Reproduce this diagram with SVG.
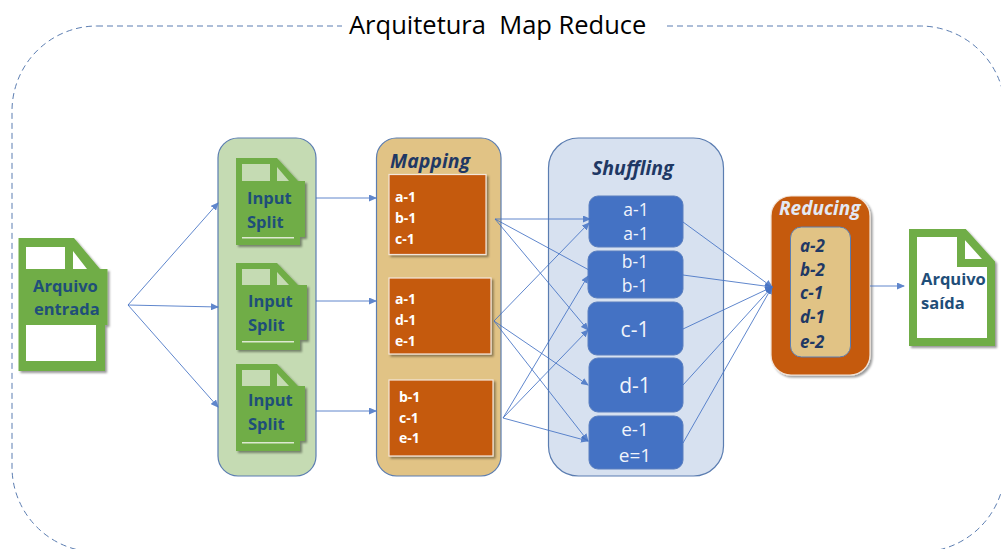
<svg xmlns="http://www.w3.org/2000/svg" width="1001" height="549" viewBox="0 0 1001 549">
<style>
text{font-family:"Open Sans","Noto Sans","DejaVu Sans",sans-serif}
.panel{stroke:#5B7DB1;stroke-width:1.2}
.org{fill:#C55A11;stroke:#F3E6DA;stroke-width:1.2;filter:url(#sh)}
.blue{fill:#4472C4;stroke:#5A7FBF;stroke-width:1}
.doc{fill:#70AD47;filter:url(#sh)}
.w{fill:#fff;font-weight:700;font-size:14px}
.lbl{fill:#1F4E79;font-weight:700;font-size:16.500px}
.big{fill:#F0F4FB;font-size:17.500px;text-anchor:middle}
.big2{fill:#F0F4FB;font-size:21px;text-anchor:middle}
.big3{fill:#F0F4FB;font-size:19px;text-anchor:middle}
.hd{fill:#1F3864;font-weight:700;font-style:italic;font-size:19.500px}
.rd{fill:#1F3864;font-weight:700;font-style:italic;font-size:17px}
.c{fill:none;stroke:#4472C4;stroke-width:1;opacity:.85}
</style>
<defs>
<filter id="sh" x="-10%" y="-10%" width="125%" height="125%"><feDropShadow dx="2" dy="2" stdDeviation="1.2" flood-color="#000" flood-opacity=".4"/></filter>
<marker id="a" markerWidth="8" markerHeight="7" refX="7" refY="3.5" orient="auto" markerUnits="userSpaceOnUse"><path d="M0 0L8 3.5L0 7z" fill="#4472C4"/></marker>
</defs>
<rect id="frame" x="12" y="26" width="993" height="526" rx="85" fill="none" stroke="#5B7DB1" stroke-width="1" stroke-dasharray="6 4"/>
<rect x="342" y="10" width="322" height="30" fill="#fff"/>
<text id="title" x="349" y="34" font-size="25.500" fill="#000" style="white-space:pre">Arquitetura  Map Reduce</text>

<g id="panel-input"><rect class="panel" x="218" y="138" width="98" height="338" rx="20" fill="#C5DBB3"/></g>
<g id="panel-mapping"><rect class="panel" x="376.500" y="138" width="124.500" height="338" rx="20" fill="#E1C385"/><text class="hd" x="390" y="168">Mapping</text></g>
<g id="panel-shuffling"><rect class="panel" x="548.500" y="138" width="175" height="338" rx="30" fill="#D7E1F0"/><text class="hd" x="592" y="175">Shuffling</text></g>

<g id="arquivo-entrada">
<path class="doc" d="M18.500 238H74L100 269H107.500V325H105V371H18.500z"/>
<path d="M26 247H65V269H26zM73 251L87 269H73zM26 325H96V361H26z" fill="#fff"/>
<text class="lbl" x="33" y="292">Arquivo</text><text class="lbl" x="34" y="315">entrada</text>
</g>
<g id="split-1">
<path class="doc" d="M236 158H277L298 181H305V237H300V245H236z"/>
<path d="M242 164H270V181H242zM277 167L289 181H277z" fill="#C5DBB3"/><rect x="242" y="237" width="52" height="1.500" fill="#DDE9D2"/>
<text class="lbl" x="247" y="204">Input</text><text class="lbl" x="247" y="228">Split</text>
</g>
<g id="split-2">
<path class="doc" d="M236 263H277L298 285H307V340H300V350H236z"/>
<path d="M242 269H270V285H242zM277 272L289 285H277z" fill="#C5DBB3"/><rect x="242" y="341" width="52" height="1.500" fill="#DDE9D2"/>
<text class="lbl" x="248" y="307">Input</text><text class="lbl" x="248" y="331">Split</text>
</g>
<g id="split-3">
<path class="doc" d="M236 364H277L298 386H305V441H300V451H236z"/>
<path d="M242 370H270V386H242zM277 373L289 386H277z" fill="#C5DBB3"/><rect x="242" y="442" width="52" height="1.500" fill="#DDE9D2"/>
<text class="lbl" x="248" y="406">Input</text><text class="lbl" x="248" y="430">Split</text>
</g>

<g id="map-1"><rect class="org" x="389" y="174.500" width="97" height="80"/><text class="w" x="395" y="202">a-1</text><text class="w" x="395" y="223">b-1</text><text class="w" x="395" y="244">c-1</text></g>
<g id="map-2"><rect class="org" x="389" y="278" width="102" height="76"/><text class="w" x="395" y="304">a-1</text><text class="w" x="395" y="325">d-1</text><text class="w" x="395" y="346">e-1</text></g>
<g id="map-3"><rect class="org" x="389" y="380" width="104" height="76"/><text class="w" x="399" y="402">b-1</text><text class="w" x="399" y="423">c-1</text><text class="w" x="399" y="443">e-1</text></g>

<g id="sh-a"><rect class="blue" x="589" y="196" width="94" height="51" rx="9"/><text class="big" x="636" y="216">a-1</text><text class="big" x="636" y="240">a-1</text></g>
<g id="sh-b"><rect class="blue" x="588" y="251" width="95" height="47" rx="9"/><text class="big" x="635" y="268">b-1</text><text class="big" x="635" y="292">b-1</text></g>
<g id="sh-c"><rect class="blue" x="588" y="302" width="95" height="53" rx="9"/><text class="big2" x="635" y="337">c-1</text></g>
<g id="sh-d"><rect class="blue" x="589" y="358" width="94" height="54" rx="9"/><text class="big2" x="635" y="393">d-1</text></g>
<g id="sh-e"><rect class="blue" x="589" y="416" width="94" height="53" rx="9"/><text class="big3" x="635" y="436">e-1</text><text class="big3" x="635" y="462">e=1</text></g>

<g id="reducing">
<rect x="771" y="196" width="99" height="179" rx="20" fill="#C55A11" stroke="#F3E6DA" stroke-width="1.200" filter="url(#sh)"/>
<text x="779" y="215" font-size="19" font-weight="700" font-style="italic" fill="#E3E9F4">Reducing</text>
<rect x="790.500" y="227" width="60" height="130" rx="11" fill="#E1C385" stroke="#5B7DB1" stroke-width="1"/>
<text class="rd" x="800" y="252">a-2</text><text class="rd" x="800" y="276">b-2</text><text class="rd" x="800" y="299">c-1</text><text class="rd" x="800" y="323">d-1</text><text class="rd" x="800" y="348">e-2</text>
</g>

<g id="arquivo-saida">
<path d="M913 233H964L991 263V342H913z" fill="#fff" stroke="#70AD47" stroke-width="8" filter="url(#sh)"/>
<path d="M961 233V263H991" fill="none" stroke="#70AD47" stroke-width="8"/>
<text class="lbl" x="921" y="285">Arquivo</text><text class="lbl" x="921" y="309">saída</text>
</g>

<g id="connectors">
<path class="c" marker-end="url(#a)" d="M128 305L218 203"/>
<path class="c" marker-end="url(#a)" d="M128 305L218 307"/>
<path class="c" marker-end="url(#a)" d="M128 305L218 407"/>
<path class="c" marker-end="url(#a)" d="M316 198H376"/>
<path class="c" marker-end="url(#a)" d="M316 301H376"/>
<path class="c" marker-end="url(#a)" d="M316 411H376"/>
<path class="c" marker-end="url(#a)" d="M495 219H590"/>
<path class="c" d="M495 219L589 270"/>
<path class="c" marker-end="url(#a)" d="M495 219L588 330"/>
<path class="c" marker-end="url(#a)" d="M494 321L589 223"/>
<path class="c" marker-end="url(#a)" d="M494 321L588 385"/>
<path class="c" marker-end="url(#a)" d="M494 321L588 441"/>
<path class="c" marker-end="url(#a)" d="M503 418L588 276"/>
<path class="c" marker-end="url(#a)" d="M503 418L588 330"/>
<path class="c" marker-end="url(#a)" d="M503 418L588 441"/>
<path class="c" marker-end="url(#a)" d="M683 222L772 287"/>
<path class="c" marker-end="url(#a)" d="M683 275L772 287"/>
<path class="c" marker-end="url(#a)" d="M683 329L772 287"/>
<path class="c" marker-end="url(#a)" d="M683 385L772 287"/>
<path class="c" marker-end="url(#a)" d="M683 443L772 287"/>
<path class="c" marker-end="url(#a)" d="M870 286H904"/>
</g>
</svg>
